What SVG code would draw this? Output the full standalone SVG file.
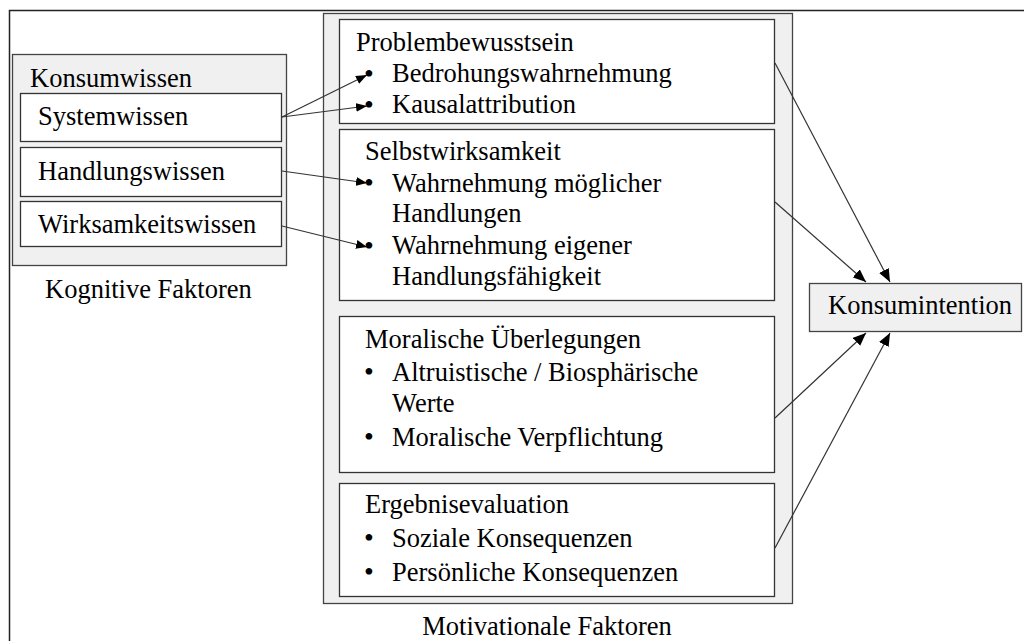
<svg xmlns="http://www.w3.org/2000/svg" width="1024" height="641" viewBox="0 0 1024 641">
  <style>
    text { font-family: "Liberation Serif", "Times New Roman", serif; font-size: 26.5px; fill: #000; }
    tspan.dot { font-size: 28px; }
    .group { fill: #f0f0f0; stroke: #444; stroke-width: 1.3; }
    .item { fill: #ffffff; stroke: #333; stroke-width: 1.3; }
    .frame { fill: #ffffff; stroke: #222; stroke-width: 1.5; }
    .link { stroke: #333; stroke-width: 1.2; fill: none; }
    .small { marker-end: url(#headSmall); }
    .big { marker-end: url(#headBig); }
  </style>
  <defs>
    <marker id="headSmall" viewBox="0 0 10 8" refX="10" refY="4" markerWidth="11" markerHeight="9" markerUnits="userSpaceOnUse" orient="auto">
      <path d="M0,0 L10,4 L0,8 Z" fill="#000"/>
    </marker>
    <marker id="headBig" viewBox="0 0 12 10" refX="12" refY="5" markerWidth="13" markerHeight="11" markerUnits="userSpaceOnUse" orient="auto">
      <path d="M0,0 L12,5 L0,10 Z" fill="#000"/>
    </marker>
  </defs>

  <!-- page frame -->
  <rect class="frame" x="9.5" y="10.5" width="1030" height="650"/>

  <!-- cognitive factors -->
  <g id="konsumwissen">
    <rect class="group" x="12.5" y="54.5" width="274" height="211"/>
    <text x="30" y="87">Konsumwissen</text>
  </g>
  <g id="systemwissen">
    <rect class="item" x="20.5" y="93.5" width="261" height="48"/>
    <text x="38" y="125">Systemwissen</text>
  </g>
  <g id="handlungswissen">
    <rect class="item" x="20.5" y="147.5" width="261" height="49"/>
    <text x="38" y="180">Handlungswissen</text>
  </g>
  <g id="wirksamkeitswissen">
    <rect class="item" x="20.5" y="201.5" width="261" height="45"/>
    <text x="38" y="233">Wirksamkeitswissen</text>
  </g>
  <g id="kognitive-faktoren">
    <text x="45" y="298">Kognitive Faktoren</text>
  </g>

  <!-- motivational factors -->
  <g id="motivationale-faktoren">
    <rect class="group" x="323.5" y="13.5" width="469" height="590"/>
    <text x="547" y="635" text-anchor="middle">Motivationale Faktoren</text>
  </g>
  <g id="problembewusstsein">
    <rect class="item" x="339.5" y="19.5" width="435" height="104"/>
    <text x="356" y="51">Problembewusstsein</text>
    <text x="364" y="82"><tspan class="dot" dy="1">•</tspan><tspan x="392" dy="-1">Bedrohungswahrnehmung</tspan></text>
    <text x="364" y="113"><tspan class="dot" dy="1">•</tspan><tspan x="392" dy="-1">Kausalattribution</tspan></text>
  </g>
  <g id="selbstwirksamkeit">
    <rect class="item" x="339.5" y="129.5" width="435" height="171"/>
    <text x="365" y="160">Selbstwirksamkeit</text>
    <text x="364" y="192"><tspan class="dot">•</tspan><tspan x="392">Wahrnehmung möglicher</tspan></text>
    <text x="392" y="222">Handlungen</text>
    <text x="364" y="254"><tspan class="dot" dy="1">•</tspan><tspan x="392" dy="-1">Wahrnehmung eigener</tspan></text>
    <text x="392" y="285">Handlungsfähigkeit</text>
  </g>
  <g id="moralische-ueberlegungen">
    <rect class="item" x="339.5" y="316.5" width="435" height="156"/>
    <text x="365" y="348">Moralische Überlegungen</text>
    <text x="364" y="381"><tspan class="dot">•</tspan><tspan x="392">Altruistische / Biosphärische</tspan></text>
    <text x="392" y="412">Werte</text>
    <text x="364" y="446"><tspan class="dot">•</tspan><tspan x="392">Moralische Verpflichtung</tspan></text>
  </g>
  <g id="ergebnisevaluation">
    <rect class="item" x="339.5" y="483.5" width="435" height="113"/>
    <text x="365" y="513">Ergebnisevaluation</text>
    <text x="364" y="547"><tspan class="dot">•</tspan><tspan x="392">Soziale Konsequenzen</tspan></text>
    <text x="364" y="581"><tspan class="dot">•</tspan><tspan x="392">Persönliche Konsequenzen</tspan></text>
  </g>

  <!-- outcome -->
  <g id="konsumintention">
    <rect class="group" x="809.5" y="283.5" width="212" height="48"/>
    <text x="828" y="314">Konsumintention</text>
  </g>

  <!-- connectors -->
  <g id="connectors">
    <line class="link small" x1="282" y1="117" x2="367" y2="75"/>
    <line class="link small" x1="282" y1="117" x2="367" y2="106"/>
    <line class="link small" x1="282" y1="171" x2="367" y2="183"/>
    <line class="link small" x1="282" y1="226" x2="367" y2="247"/>
    <line class="link big" x1="775" y1="63" x2="890" y2="282"/>
    <line class="link big" x1="775" y1="202" x2="866" y2="282"/>
    <line class="link big" x1="775" y1="418" x2="866" y2="333"/>
    <line class="link big" x1="775" y1="548" x2="890" y2="333"/>
  </g>
</svg>
